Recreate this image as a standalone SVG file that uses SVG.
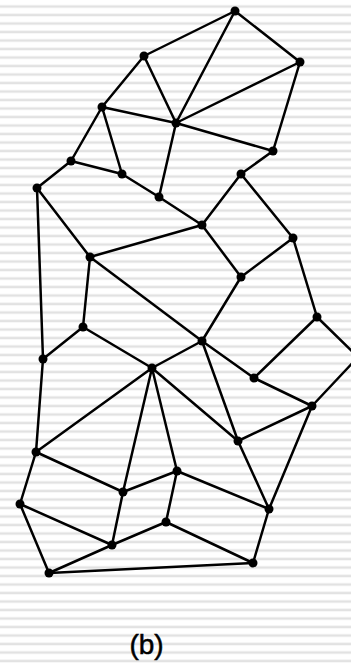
<svg xmlns="http://www.w3.org/2000/svg" width="351" height="663" viewBox="0 0 351 663">
<style>
.e{stroke:#000;stroke-width:2.5;stroke-linecap:round;fill:none}
.n{fill:#000}
.lbl{font-family:"Liberation Sans",Arial,sans-serif;font-size:28px;fill:#000;stroke:#000;stroke-width:0.5}
</style>
<defs>
<pattern id="stripes" patternUnits="userSpaceOnUse" x="0" y="0" width="351" height="8.5">
<rect x="0" y="5.6" width="351" height="2.2" fill="#e2e2e2"/>
<rect x="0" y="4.8" width="351" height="0.8" fill="#f0f0f0"/>
</pattern>
</defs>
<rect width="351" height="663" fill="#fff"/>
<rect width="351" height="663" fill="url(#stripes)"/>
<g id="connectors">
<line class="e" x1="235" y1="11" x2="144" y2="56"/>
<line class="e" x1="235" y1="11" x2="176" y2="123"/>
<line class="e" x1="235" y1="11" x2="300" y2="62"/>
<line class="e" x1="300" y1="62" x2="176" y2="123"/>
<line class="e" x1="300" y1="62" x2="273" y2="151"/>
<line class="e" x1="144" y1="56" x2="102" y2="107"/>
<line class="e" x1="144" y1="56" x2="176" y2="123"/>
<line class="e" x1="102" y1="107" x2="176" y2="123"/>
<line class="e" x1="176" y1="123" x2="273" y2="151"/>
<line class="e" x1="176" y1="123" x2="159" y2="197"/>
<line class="e" x1="102" y1="107" x2="71" y2="161"/>
<line class="e" x1="102" y1="107" x2="122" y2="174"/>
<line class="e" x1="71" y1="161" x2="122" y2="174"/>
<line class="e" x1="122" y1="174" x2="159" y2="197"/>
<line class="e" x1="71" y1="161" x2="37" y2="188"/>
<line class="e" x1="37" y1="188" x2="43" y2="359"/>
<line class="e" x1="37" y1="188" x2="90" y2="257"/>
<line class="e" x1="159" y1="197" x2="202" y2="225"/>
<line class="e" x1="241" y1="174" x2="202" y2="225"/>
<line class="e" x1="241" y1="174" x2="293" y2="238"/>
<line class="e" x1="273" y1="151" x2="241" y2="174"/>
<line class="e" x1="202" y1="225" x2="90" y2="257"/>
<line class="e" x1="202" y1="225" x2="241" y2="277"/>
<line class="e" x1="293" y1="238" x2="241" y2="277"/>
<line class="e" x1="293" y1="238" x2="317" y2="317"/>
<line class="e" x1="90" y1="257" x2="83" y2="327"/>
<line class="e" x1="90" y1="257" x2="202" y2="341"/>
<line class="e" x1="241" y1="277" x2="202" y2="341"/>
<line class="e" x1="83" y1="327" x2="43" y2="359"/>
<line class="e" x1="83" y1="327" x2="152" y2="368"/>
<line class="e" x1="202" y1="341" x2="152" y2="368"/>
<line class="e" x1="202" y1="341" x2="254" y2="378"/>
<line class="e" x1="202" y1="341" x2="238" y2="441"/>
<line class="e" x1="317" y1="317" x2="254" y2="378"/>
<line class="e" x1="317" y1="317" x2="358" y2="357"/>
<line class="e" x1="254" y1="378" x2="312" y2="406"/>
<line class="e" x1="312" y1="406" x2="358" y2="357"/>
<line class="e" x1="152" y1="368" x2="36" y2="452"/>
<line class="e" x1="152" y1="368" x2="123" y2="492"/>
<line class="e" x1="152" y1="368" x2="177" y2="471"/>
<line class="e" x1="152" y1="368" x2="238" y2="441"/>
<line class="e" x1="43" y1="359" x2="36" y2="452"/>
<line class="e" x1="312" y1="406" x2="238" y2="441"/>
<line class="e" x1="312" y1="406" x2="269" y2="509"/>
<line class="e" x1="238" y1="441" x2="269" y2="509"/>
<line class="e" x1="36" y1="452" x2="123" y2="492"/>
<line class="e" x1="36" y1="452" x2="20" y2="504"/>
<line class="e" x1="123" y1="492" x2="177" y2="471"/>
<line class="e" x1="123" y1="492" x2="112" y2="545"/>
<line class="e" x1="177" y1="471" x2="269" y2="509"/>
<line class="e" x1="177" y1="471" x2="166" y2="522"/>
<line class="e" x1="20" y1="504" x2="112" y2="545"/>
<line class="e" x1="20" y1="504" x2="49" y2="573"/>
<line class="e" x1="166" y1="522" x2="112" y2="545"/>
<line class="e" x1="166" y1="522" x2="253" y2="563"/>
<line class="e" x1="112" y1="545" x2="49" y2="573"/>
<line class="e" x1="49" y1="573" x2="253" y2="563"/>
<line class="e" x1="269" y1="509" x2="253" y2="563"/>
</g>
<g id="nA"><circle class="n" cx="235" cy="11" r="4.5"/></g>
<g id="nB"><circle class="n" cx="144" cy="56" r="4.5"/></g>
<g id="nC"><circle class="n" cx="300" cy="62" r="4.5"/></g>
<g id="nD"><circle class="n" cx="102" cy="107" r="4.5"/></g>
<g id="nE"><circle class="n" cx="176" cy="123" r="4.5"/></g>
<g id="nF"><circle class="n" cx="273" cy="151" r="4.5"/></g>
<g id="nG"><circle class="n" cx="71" cy="161" r="4.5"/></g>
<g id="nH"><circle class="n" cx="122" cy="174" r="4.5"/></g>
<g id="nI"><circle class="n" cx="241" cy="174" r="4.5"/></g>
<g id="nJ"><circle class="n" cx="37" cy="188" r="4.5"/></g>
<g id="nK"><circle class="n" cx="159" cy="197" r="4.5"/></g>
<g id="nL"><circle class="n" cx="202" cy="225" r="4.5"/></g>
<g id="nM"><circle class="n" cx="293" cy="238" r="4.5"/></g>
<g id="nN"><circle class="n" cx="90" cy="257" r="4.5"/></g>
<g id="nO"><circle class="n" cx="241" cy="277" r="4.5"/></g>
<g id="nP"><circle class="n" cx="317" cy="317" r="4.5"/></g>
<g id="nQ"><circle class="n" cx="83" cy="327" r="4.5"/></g>
<g id="nR"><circle class="n" cx="202" cy="341" r="4.5"/></g>
<g id="nS"><circle class="n" cx="43" cy="359" r="4.5"/></g>
<g id="nT"><circle class="n" cx="152" cy="368" r="4.5"/></g>
<g id="nU"><circle class="n" cx="254" cy="378" r="4.5"/></g>
<g id="nV"><circle class="n" cx="312" cy="406" r="4.5"/></g>
<g id="nX"><circle class="n" cx="238" cy="441" r="4.5"/></g>
<g id="nY"><circle class="n" cx="36" cy="452" r="4.5"/></g>
<g id="nZ"><circle class="n" cx="177" cy="471" r="4.5"/></g>
<g id="na"><circle class="n" cx="123" cy="492" r="4.5"/></g>
<g id="nb"><circle class="n" cx="20" cy="504" r="4.5"/></g>
<g id="nc"><circle class="n" cx="269" cy="509" r="4.5"/></g>
<g id="nd"><circle class="n" cx="166" cy="522" r="4.5"/></g>
<g id="ne"><circle class="n" cx="112" cy="545" r="4.5"/></g>
<g id="nf"><circle class="n" cx="253" cy="563" r="4.5"/></g>
<g id="ng"><circle class="n" cx="49" cy="573" r="4.5"/></g>
<text class="lbl" x="146.5" y="654" text-anchor="middle">(b)</text>
</svg>
